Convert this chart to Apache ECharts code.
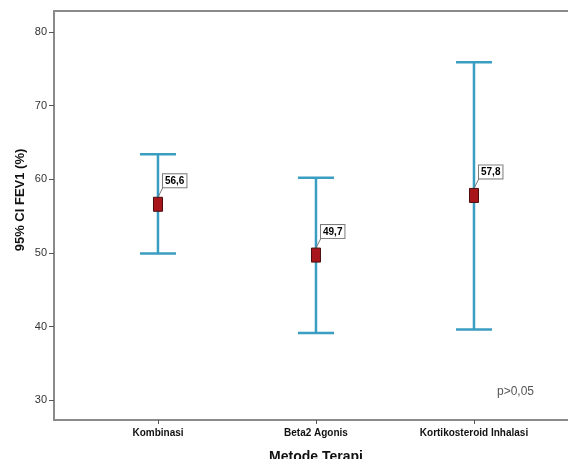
<!DOCTYPE html>
<html>
<head>
<meta charset="utf-8">
<script src="https://cdn.jsdelivr.net/npm/echarts@6/dist/echarts.min.js"></script>
<style>html,body{margin:0;padding:0;background:#fff}#c{width:568px;height:459px}</style>
</head>
<body>
<div id="c"></div>
<script>
const categories = ['Kombinasi', 'Beta2 Agonis', 'Kortikosteroid Inhalasi'];
const means = [56.6, 49.7, 57.8];
const lower = [49.9, 39.1, 39.6];
const upper = [63.4, 60.2, 75.9];
const yTicks = [30, 40, 50, 60, 70, 80];

const data = categories.map((c, i) => [i + 1, lower[i], upper[i], means[i]]);
const fmt = v => v.toFixed(1).replace('.', ',');
const frame = { show: true, lineStyle: { color: '#8a8a8a', width: 2 } };

const chart = echarts.init(document.getElementById('c'));
chart.setOption({
  animation: false,
  grid: { left: 54, top: 11, right: 0, bottom: 39 },
  xAxis: [{
    type: 'value', min: 0.342, max: 3.595,
    splitLine: { show: false },
    axisLine: frame,
    axisTick: { show: true, customValues: [1, 2, 3], length: 4, lineStyle: { color: '#555' } },
    axisLabel: {
      customValues: [1, 2, 3], margin: 8,
      formatter: v => categories[Math.round(v) - 1] || '',
      fontFamily: 'Liberation Sans, Arial', fontWeight: 'bold', fontSize: 10, color: '#111'
    }
  }, {
    type: 'value', position: 'top', min: 0.342, max: 3.595,
    splitLine: { show: false }, axisLine: frame, axisTick: { show: false }, axisLabel: { show: false }
  }],
  yAxis: {
    type: 'value', min: 27.3, max: 82.85,
    splitLine: { show: false },
    axisLine: frame,
    axisTick: { show: true, customValues: yTicks, length: 5, lineStyle: { color: '#555' } },
    axisLabel: { customValues: yTicks, margin: 7, fontFamily: 'Liberation Sans, Arial', fontSize: 11, color: '#333' }
  },
  graphic: [
    { type: 'text', x: 20, y: 200, rotation: Math.PI / 2, style: { text: '95% CI FEV1 (%)', font: 'bold 13px Liberation Sans, Arial', fill: '#111', align: 'center', verticalAlign: 'middle' } },
    { type: 'text', x: 316, y: 457, style: { text: 'Metode Terapi', font: 'bold 14px Liberation Sans, Arial', fill: '#111', align: 'center', verticalAlign: 'middle' } },
    { type: 'text', x: 497, y: 392, style: { text: 'p>0,05', font: '12px Liberation Sans, Arial', fill: '#555', align: 'left', verticalAlign: 'middle' } }
  ],
  series: [{
    type: 'custom',
    xAxisIndex: 0,
    data: data,
    encode: { x: 0, y: [1, 2, 3] },
    renderItem: function (params, api) {
      const x = api.value(0);
      const lo = api.coord([x, api.value(1)]);
      const hi = api.coord([x, api.value(2)]);
      const m = api.coord([x, api.value(3)]);
      const cw = 18;
      const blue = '#3A9DC2';
      return {
        type: 'group',
        children: [
          { type: 'line', shape: { x1: lo[0], y1: lo[1], x2: hi[0], y2: hi[1] }, style: { stroke: blue, lineWidth: 2.5 } },
          { type: 'line', shape: { x1: lo[0] - cw, y1: lo[1], x2: lo[0] + cw, y2: lo[1] }, style: { stroke: blue, lineWidth: 2.5 } },
          { type: 'line', shape: { x1: hi[0] - cw, y1: hi[1], x2: hi[0] + cw, y2: hi[1] }, style: { stroke: blue, lineWidth: 2.5 } },
          { type: 'line', shape: { x1: m[0], y1: m[1] - 7, x2: m[0] + 5, y2: m[1] - 17 }, style: { stroke: '#777', lineWidth: 1 } },
          { type: 'rect', shape: { x: m[0] - 4.5, y: m[1] - 7, width: 9, height: 14 }, style: { fill: '#A8161B', stroke: '#4a0d0d', lineWidth: 1 } },
          { type: 'text', x: m[0] + 5, y: m[1] - 17, style: { text: fmt(api.value(3)), font: 'bold 10px Liberation Sans, Arial', fill: '#000', backgroundColor: '#fff', borderColor: '#7a7a7a', borderWidth: 1, padding: [2, 2, 1, 2], align: 'left', verticalAlign: 'bottom' } }
        ]
      };
    }
  }]
});
</script>
</body>
</html>
